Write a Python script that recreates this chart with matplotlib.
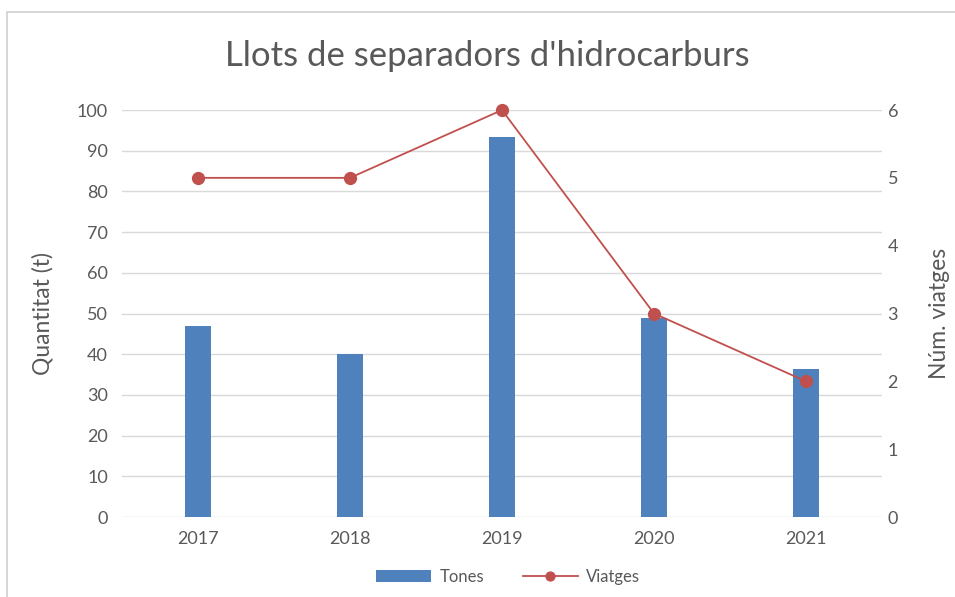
import matplotlib
matplotlib.use("Agg")
import matplotlib.pyplot as plt
from matplotlib.patches import Rectangle
import numpy as np

plt.rcParams['font.family'] = ['Lato', 'DejaVu Sans']

years = ['2017', '2018', '2019', '2020', '2021']
tones = [47, 40, 93.3, 49, 36.3]
viatges = [5, 5, 6, 3, 2]

bar_color = '#4F81BD'
line_color = '#C0504D'
text_color = '#595959'
grid_color = '#D9D9D9'

fig = plt.figure(figsize=(9.55, 5.97), dpi=100)
top = 1 - 12 / 597
fig.patches.append(Rectangle((7 / 955, -0.1), 1.2, top + 0.1,
                             transform=fig.transFigure, fill=False,
                             edgecolor='#D0D0D0', linewidth=1.2))

ax = fig.add_axes([0.1277, 0.134, 0.7959, 0.6817])
x = np.arange(len(years))
ax.bar(x, tones, width=0.17, color=bar_color, label='Tones', zorder=2)
ax.set_xlim(-0.5, len(years) - 0.5)
ax.set_ylim(0, 100)
ax.set_yticks(range(0, 101, 10))
ax.set_xticks(x)
ax.set_xticklabels(years)
ax.grid(axis='y', color=grid_color, linewidth=1, zorder=0)
ax.set_axisbelow(True)
for s in ax.spines.values():
    s.set_visible(False)
ax.tick_params(length=0, labelsize=13, colors=text_color, pad=10)
ax.set_ylabel('Quantitat (t)', fontsize=16.5, color=text_color, labelpad=17)

ax2 = ax.twinx()
ax2.plot(x, viatges, color=line_color, linewidth=1.3, marker='o',
         markersize=8.5, label='Viatges', zorder=3, clip_on=False)
ax2.set_ylim(0, 6)
ax2.set_yticks(range(0, 7))
for s in ax2.spines.values():
    s.set_visible(False)
ax2.tick_params(length=0, labelsize=13, colors=text_color, pad=4)
ax2.set_ylabel('Núm. viatges', fontsize=16.5, color=text_color, labelpad=22)

fig.text(0.51, 0.907, "Llots de separadors d'hidrocarburs", ha='center',
         va='center', fontsize=25, color=text_color)

h1, l1 = ax.get_legend_handles_labels()
h2, l2 = ax2.get_legend_handles_labels()
fig.legend(h1 + h2, l1 + l2, loc='center', bbox_to_anchor=(0.532, 0.034),
           ncol=2, frameon=False, fontsize=12, labelcolor=text_color,
           handlelength=3.3, columnspacing=2.3, handletextpad=0.5,
           markerscale=0.75)

fig.savefig('out.png', dpi=100)
